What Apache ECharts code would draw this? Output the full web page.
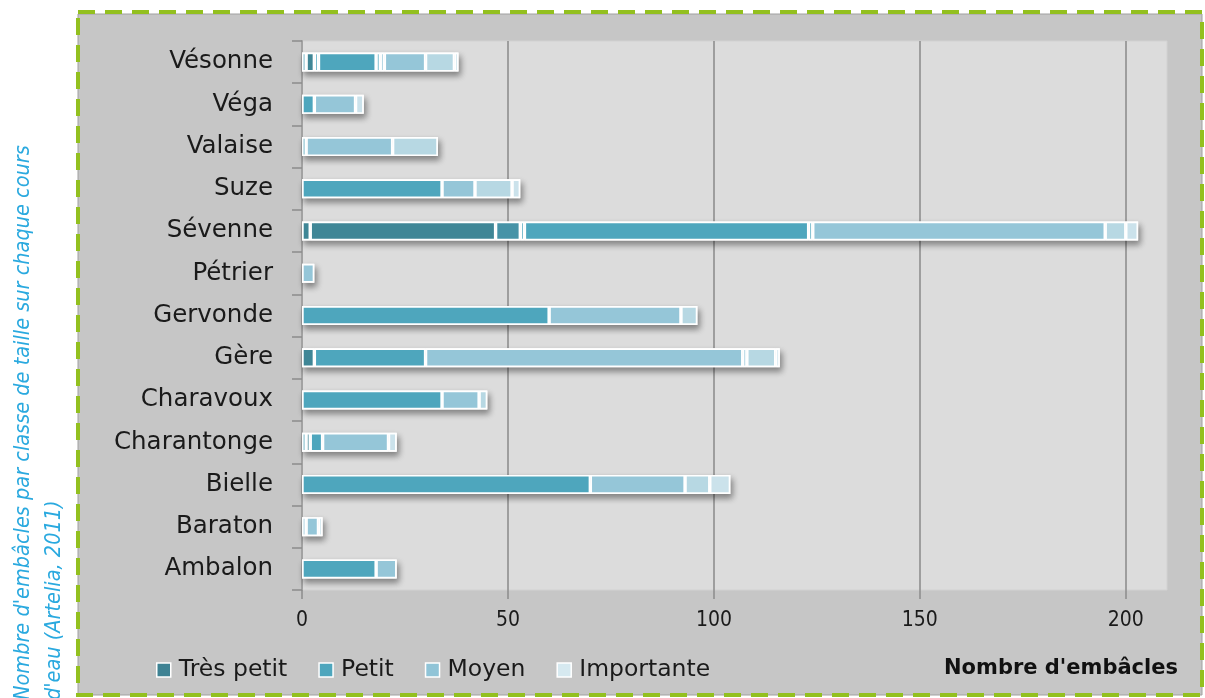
<!DOCTYPE html>
<html>
<head>
<meta charset="utf-8">
<script src="https://cdn.jsdelivr.net/npm/echarts@6/dist/echarts.min.js"></script>
<style>
  html, body { margin: 0; padding: 0; background: #fff; }
  #chart { width: 1205px; height: 698px; }
</style>
</head>
<body>
<div id="chart"></div>
<script>
// cours d'eau (bas -> haut)
const categories = ['Ambalon', 'Baraton', 'Bielle', 'Charantonge', 'Charavoux', 'Gère',
  'Gervonde', 'Pétrier', 'Sévenne', 'Suze', 'Valaise', 'Véga', 'Vésonne']

// sous-séries empilées, dans l'ordre d'empilement
const petitLead  = [0, 0, 0, 1, 0, 0, 0, 0, 0, 0, 1, 0, 1]
const tresPetitA = [0, 0, 0, 1, 0, 3, 0, 0, 2, 0, 0, 0, 2]
const tresPetitB = [0, 0, 0, 0, 0, 0, 0, 0, 45, 0, 0, 0, 0]
const tresPetitC = [0, 0, 0, 0, 0, 0, 0, 0, 6, 0, 0, 0, 0]
const petitA     = [18, 0, 70, 3, 34, 27, 60, 0, 1, 34, 0, 3, 1]
const petitB     = [0, 0, 0, 0, 0, 0, 0, 0, 69, 0, 0, 0, 14]
const petitC     = [0, 0, 0, 0, 0, 0, 0, 0, 1, 0, 0, 0, 1]
const moyenA     = [5, 1, 23, 16, 9, 77, 32, 3, 71, 8, 21, 10, 1]
const moyenB     = [0, 3, 0, 0, 0, 1, 0, 0, 0, 0, 0, 0, 10]
const moyenC     = [0, 0, 6, 0, 2, 7, 4, 0, 5, 9, 11, 0, 7]
const importante = [0, 1, 5, 2, 0, 1, 0, 0, 3, 2, 0, 2, 1]

const xTicks = [0, 50, 100, 150, 200]
const legendNames = ['Très petit', 'Petit', 'Moyen', 'Importante']
const legendColors = ['#3e8293', '#4ea6bd', '#90c4d7', '#d6e9f0']

const stackDefs = [
  { name: 'Petit', data: petitLead, color: '#4a9fb5' },
  { name: 'Très petit', data: tresPetitA, color: '#3f8696' },
  { name: 'Très petit', data: tresPetitB, color: '#3f8696' },
  { name: 'Très petit', data: tresPetitC, color: '#4693a7' },
  { name: 'Petit', data: petitA, color: '#4ea6bd' },
  { name: 'Petit', data: petitB, color: '#4ea6bd' },
  { name: 'Petit', data: petitC, color: '#4ea6bd' },
  { name: 'Moyen', data: moyenA, color: '#95c6d8' },
  { name: 'Moyen', data: moyenB, color: '#95c6d8' },
  { name: 'Moyen', data: moyenC, color: '#b7d8e3' },
  { name: 'Importante', data: importante, color: '#cbe2eb' }
]

// total par cours d'eau : sert seulement à l'ombre portée sous chaque barre
const totals = categories.map((c, i) => stackDefs.reduce((s, d) => s + d.data[i], 0))

const myChart = echarts.init(document.getElementById('chart'), null, { renderer: 'canvas' })

const labelFont = 'DejaVu Sans'
const narrowFont = '"DejaVu Sans Condensed", "Liberation Sans", sans-serif'

const BAR_W = 19

const option = {
  animation: false,
  backgroundColor: '#ffffff',
  graphic: {
    elements: [
      {
        type: 'rect', z: -10, silent: true,
        shape: { x: 78, y: 14, width: 1124, height: 681 },
        style: { fill: '#c6c6c6', stroke: '#a0a0a0', lineWidth: 1 }
      },
      {
        type: 'rect', z: -9, silent: true,
        shape: { x: 78, y: 12, width: 1124, height: 683 },
        style: { fill: null, stroke: '#93c01f', lineWidth: 4, lineDash: [17, 10] }
      },
      {
        type: 'text', z: 10, x: 23, y: 700, rotation: Math.PI / 2,
        style: {
          text: "Nombre d'embâcles par classe de taille sur chaque cours",
          fill: '#2aa9df', font: 'italic 21.5px ' + narrowFont,
          textAlign: 'left', textVerticalAlign: 'middle'
        }
      },
      {
        type: 'text', z: 10, x: 54, y: 700, rotation: Math.PI / 2,
        style: {
          text: "d'eau (Artelia, 2011)",
          fill: '#2aa9df', font: 'italic 21.5px ' + narrowFont,
          textAlign: 'left', textVerticalAlign: 'middle'
        }
      }
    ]
  },
  title: {
    text: "Nombre d'embâcles",
    right: 27,
    top: 658,
    padding: 0,
    textStyle: { fontFamily: labelFont, fontWeight: 'bold', fontSize: 21, color: '#111' }
  },
  legend: {
    data: legendNames.map((n, i) => ({
      name: n,
      itemStyle: { color: legendColors[i], borderColor: '#ffffff', borderWidth: 1.5 }
    })),
    left: 156,
    top: 658,
    padding: 0,
    icon: 'rect',
    itemWidth: 14,
    itemHeight: 14,
    itemGap: 31,
    selectedMode: false,
    textStyle: { fontFamily: labelFont, fontSize: 23.5, color: '#1a1a1a', padding: [0, 0, 0, 3] }
  },
  grid: {
    left: 302,
    top: 41,
    right: 38,
    bottom: 108,
    show: true,
    backgroundColor: '#dcdcdc',
    borderColor: '#d2d2d2',
    borderWidth: 1
  },
  xAxis: {
    type: 'value',
    min: 0,
    max: 210,
    interval: 50,
    axisLine: { show: false },
    axisTick: {
      show: true, length: 9, customValues: xTicks,
      lineStyle: { color: '#8c8c8c', width: 1.5 }
    },
    axisLabel: {
      margin: 20, customValues: xTicks,
      fontFamily: narrowFont, fontSize: 21, color: '#1a1a1a'
    },
    splitLine: {
      show: true,
      lineStyle: { color: '#8a8a8a', width: 1.5 }
    }
  },
  yAxis: {
    type: 'category',
    data: categories,
    axisLine: { show: true, lineStyle: { color: '#a2a2a2', width: 2 } },
    axisTick: { show: true, length: 10, lineStyle: { color: '#8c8c8c', width: 1.5 } },
    axisLabel: { margin: 29, fontFamily: labelFont, fontSize: 24.5, color: '#1a1a1a' }
  },
  series: [
    {
      type: 'bar',
      name: 'ombre',
      barWidth: BAR_W,
      z: 1,
      data: totals,
      itemStyle: {
        color: '#ffffff',
        borderColor: '#ffffff',
        borderWidth: 2,
        shadowColor: 'rgba(0,0,0,0.4)',
        shadowBlur: 6,
        shadowOffsetX: 2,
        shadowOffsetY: 4
      },
      emphasis: { disabled: true }
    }
  ].concat(stackDefs.map(d => ({
    type: 'bar',
    name: d.name,
    stack: 'total',
    barWidth: BAR_W,
    barGap: '-100%',
    z: 2,
    data: d.data.map(v => (v ? v : '-')),
    itemStyle: {
      color: d.color,
      borderColor: '#ffffff',
      borderWidth: 1.7
    },
    emphasis: { disabled: true }
  })))
}

myChart.setOption(option)
</script>
</body>
</html>
